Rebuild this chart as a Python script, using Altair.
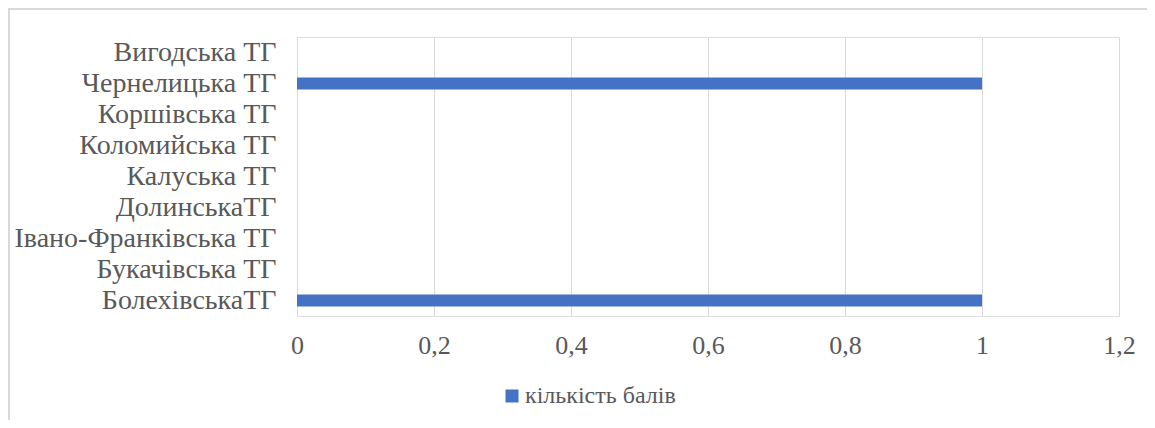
import altair as alt
import pandas as pd

categories = ["Вигодська ТГ", "Чернелицька ТГ", "Коршівська ТГ", "Коломийська ТГ",
              "Калуська ТГ", "ДолинськаТГ", "Івано-Франківська ТГ", "Букачівська ТГ",
              "БолехівськаТГ"]
values = [0, 1, 0, 0, 0, 0, 0, 0, 1]
series_name = "кількість балів"
x_ticks = [0, 0.2, 0.4, 0.6, 0.8, 1.0, 1.2]

df = pd.DataFrame({"cat": categories, "val": values, "series": series_name})

FONT = "'Times New Roman', 'Liberation Serif', 'DejaVu Serif', serif"
GREY = "#595959"
GRID = "#d9d9d9"

bars = alt.Chart(df).mark_bar(size=12).encode(
    y=alt.Y("cat:N", sort=categories, title=None,
            axis=alt.Axis(domain=False, ticks=False, labelPadding=21, labelFontSize=28,
                          labelColor=GREY, labelFont=FONT, grid=False, labelLimit=400)),
    x=alt.X("val:Q", title=None,
            scale=alt.Scale(domain=[0, 1.2], nice=False, zero=True),
            axis=alt.Axis(values=x_ticks, domain=False, ticks=False, grid=True,
                          gridColor=GRID, gridWidth=1, labelPadding=16, labelFontSize=26,
                          labelColor=GREY, labelFont=FONT, labelFlush=False,
                          labelExpr="replace(format(datum.value, '.2~f'), '.', ',')")),
    color=alt.Color("series:N", scale=alt.Scale(range=["#4472C4"]),
                    legend=alt.Legend(title=None, orient="none", legendX=203, legendY=347,
                                      symbolType="square", symbolSize=169, symbolStrokeWidth=0,
                                      labelFontSize=24, labelColor=GREY, labelFont=FONT,
                                      labelOffset=1, padding=0, labelLimit=400)),
)

border = alt.Chart(df).mark_rect(filled=False, stroke=GRID, strokeWidth=2).encode(
    x=alt.value(-288), x2=alt.value(900), y=alt.value(-28), y2=alt.value(450)
)

chart = alt.layer(border, bars).properties(
    width=822, height=279,
    padding={"left": 289, "top": 29, "right": 28, "bottom": 104},
    autosize=alt.AutoSizeParams(type="none"),
).configure_view(stroke=None).configure(font=FONT)

chart.save("out.html", embed_options={"renderer": "svg", "actions": False})
